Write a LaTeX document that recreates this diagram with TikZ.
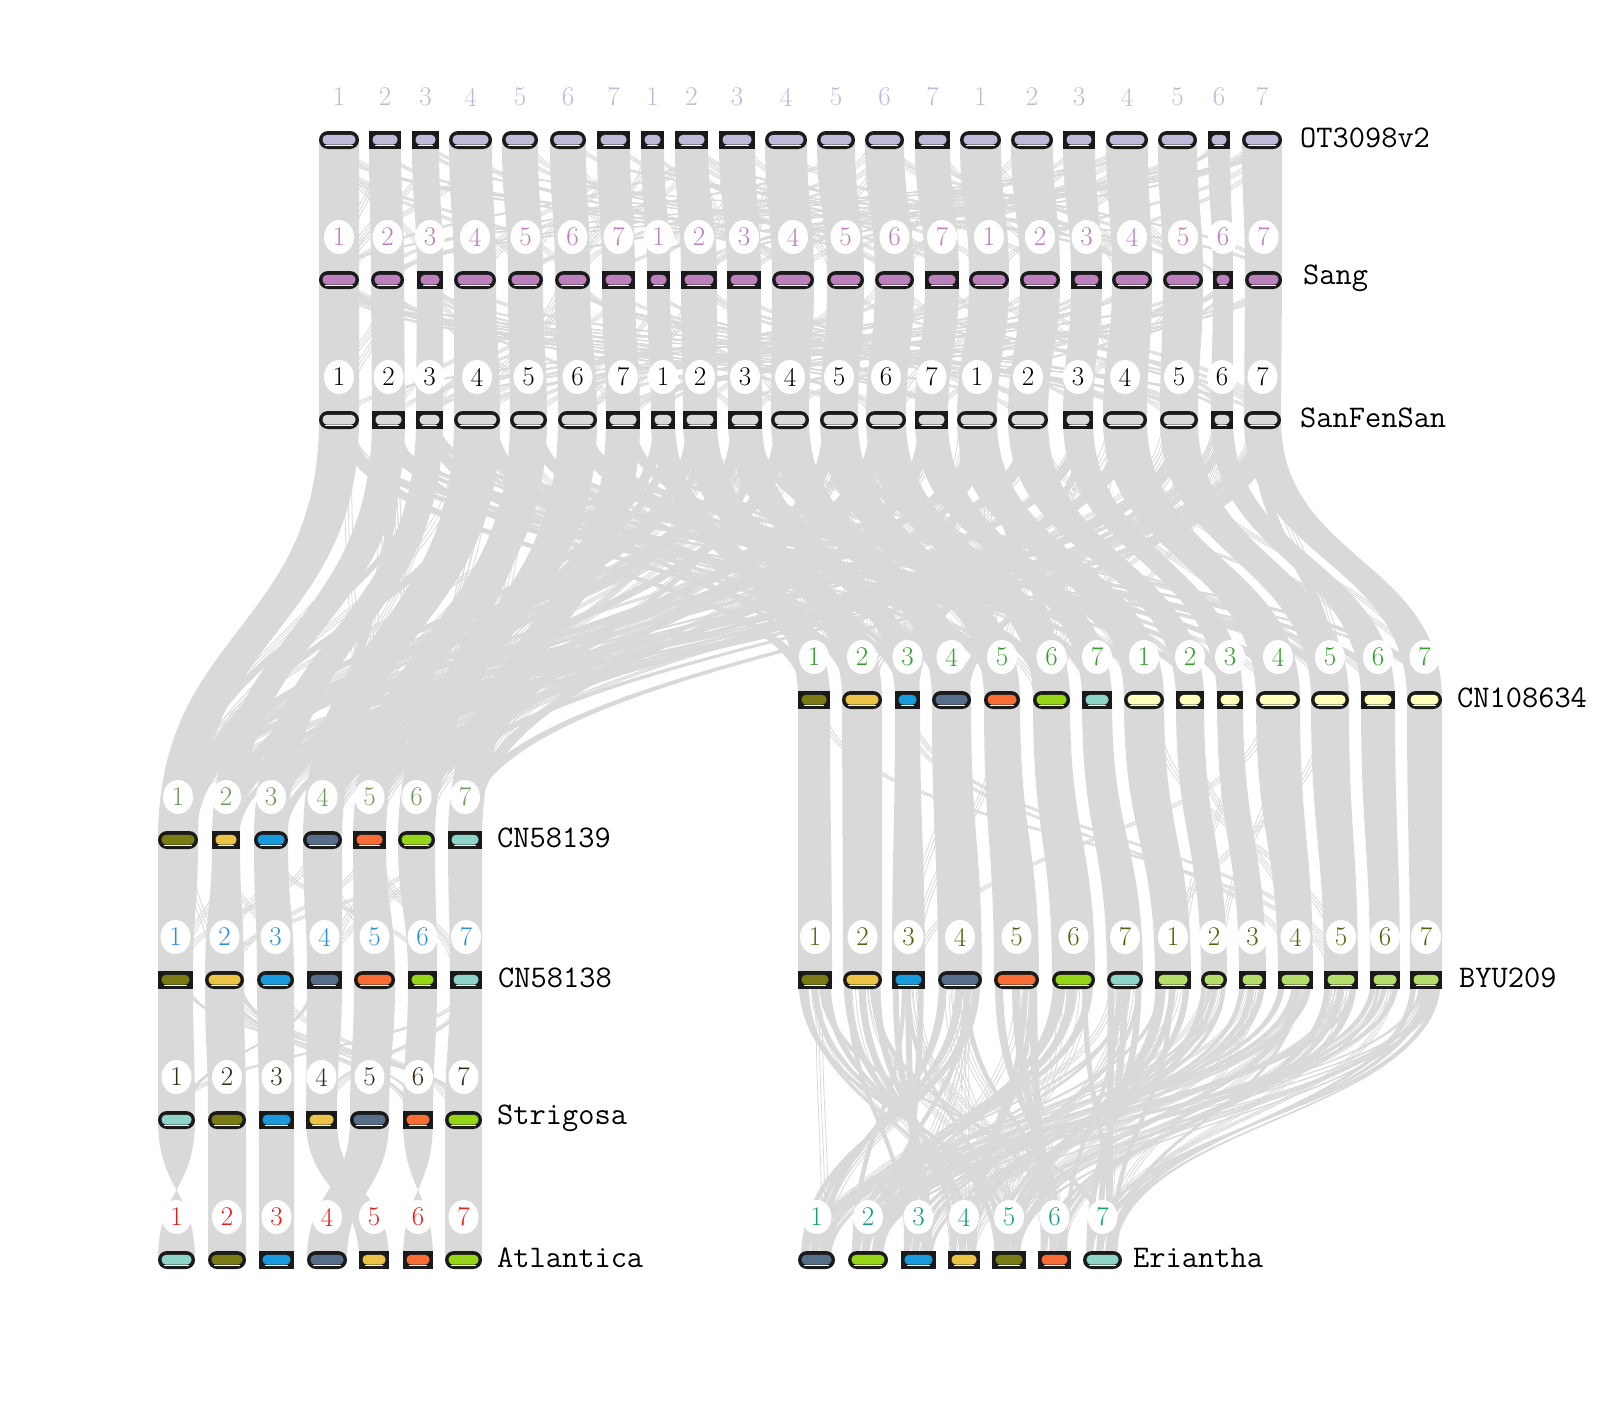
\documentclass[tikz,border=0pt]{standalone}
\usepackage{fontspec}
\usetikzlibrary{calc,shapes.geometric}
\pgfdeclarelayer{bg}
\pgfsetlayers{bg,main}
\definecolor{rib}{HTML}{D9D9D9}
\definecolor{chrblk}{HTML}{1A1A1A}
\definecolor{cot}{HTML}{BEBADA}
\definecolor{csang}{HTML}{BC80BD}
\definecolor{csfs}{HTML}{DADADA}
\definecolor{colive}{HTML}{7B7B16}
\definecolor{cyel}{HTML}{EBC447}
\definecolor{cblue}{HTML}{1A9ADE}
\definecolor{cslate}{HTML}{566E8A}
\definecolor{corange}{HTML}{F86C36}
\definecolor{clime}{HTML}{95D617}
\definecolor{cteal}{HTML}{8FD4C8}
\definecolor{cly}{HTML}{FFFFBB}
\definecolor{clg}{HTML}{B3DF6A}
\definecolor{nCB}{HTML}{33A02C}
\definecolor{nCA}{HTML}{6F9A5C}
\definecolor{nCC}{HTML}{2B8FD6}
\definecolor{nBY}{HTML}{50650F}
\definecolor{nST}{HTML}{3A2A14}
\definecolor{nAT}{HTML}{E8201A}
\definecolor{nER}{HTML}{159E82}
\tikzset{
  ribbon/.style={fill=rib, draw=none},
  thinrib/.style={draw=rib, line width=0.8pt},
  chrP/.style={fill=chrblk, rounded corners=9pt, minimum height=18pt, inner sep=0pt, outer sep=0pt},
  chrR/.style={fill=chrblk, minimum height=18pt, inner sep=0pt, outer sep=0pt},
  numlab/.style={ellipse, fill=white, minimum width=30pt, minimum height=34pt, inner sep=0pt, font=\fontsize{27}{27}\selectfont},
  glab/.style={anchor=west, inner sep=0pt, font=\ttfamily\fontsize{31.5}{32}\selectfont},
}
\newcommand\chrrow[4]{%
  \foreach \xa/\xb/\shp/\col [count=\i] in {#4} {
    \pgfmathsetmacro\cx{(\xa+\xb)/2}
    \pgfmathsetmacro\cw{\xb-\xa}
    \pgfmathtruncatemacro\num{mod(\i-1,7)+1}
    \node[numlab, text=#3] (#1n\i) at (\cx,{#2-43}) {\num};
    \node[chr\shp, minimum width=\cw pt] (#1\i) at (\cx,#2) {};
    \fill[\col, rounded corners=4.5pt] ({\xa+3.5},{#2-5.2}) rectangle ({\xb-3.5},{#2+4.6});
    \draw[white, line width=0.8pt] ({\xa+6},{#2+5.3}) -- ({\xb-6},{#2+5.3});
  }%
}
\newcommand\bandp[6]{%
  \fill[ribbon] let \p1=($(#1.west)!#2!(#1.east)$), \p2=($(#1.west)!#3!(#1.east)$),
    \p3=($(#4.west)!#5!(#4.east)$), \p4=($(#4.west)!#6!(#4.east)$),
    \n1={0.5*\y1+0.5*\y3} in
    (\p1) .. controls (\x1,\n1) and (\x3,\n1) .. (\p3) -- (\p4)
    .. controls (\x4,\n1) and (\x2,\n1) .. (\p2) -- cycle;}
\newcommand\band[2]{\bandp{#1}{0}{1}{#2}{0}{1}}
\newcommand\bandx[2]{\bandp{#1}{0}{1}{#2}{1}{0}}
\newcommand\thinln[4]{%
  \draw[thinrib] let \p1=($(#1.west)!#2!(#1.east)$), \p2=($(#3.west)!#4!(#3.east)$),
    \n1={0.5*\y1+0.5*\y2} in
    (\p1) .. controls (\x1,\n1) and (\x2,\n1) .. (\p2);}
\newcommand\thinset[6]{%
  \foreach \j in {1,...,#5}{%
    \pgfmathtruncatemacro\ra{1+mod(int(1000*abs(sin(\j*97.31+#6*11.3))),#2)}%
    \pgfmathtruncatemacro\rb{1+mod(int(1000*abs(cos(\j*53.17+#6*23.9))),#4)}%
    \pgfmathsetmacro\fa{0.05+0.6*abs(sin(\j*117.7+#6*31.1))}%
    \pgfmathsetmacro\fb{0.05+0.6*abs(cos(\j*143.3+#6*17.7))}%
    \foreach \d in {0,0.09,0.18}{%
      \pgfmathsetmacro\ga{\fa+\d}%
      \pgfmathsetmacro\gb{\fb+\d}%
      \thinln{#1\ra}{\ga}{#3\rb}{\gb}%
    }%
  }%
}
% partial ribbons between pseudo-random pairs; #7 = strand width (fraction)
\newcommand\partset[7]{%
  \foreach \j in {1,...,#5}{%
    \pgfmathtruncatemacro\ra{1+mod(int(1000*abs(sin(\j*71.9+#6*13.7))),#2)}%
    \pgfmathtruncatemacro\rb{1+mod(int(1000*abs(cos(\j*37.3+#6*29.1))),#4)}%
    \pgfmathsetmacro\fa{0.05+(0.9-#7)*abs(sin(\j*151.3+#6*7.7))}%
    \pgfmathsetmacro\fb{0.05+(0.9-#7)*abs(cos(\j*119.9+#6*5.3))}%
    \pgfmathsetmacro\ga{\fa+#7}%
    \pgfmathsetmacro\gb{\fb+#7}%
    \bandp{#1\ra}{\fa}{\ga}{#3\rb}{\fb}{\gb}%
  }%
}
\begin{document}
\begin{tikzpicture}[x=1pt,y=-1pt]
\useasboundingbox (0,0) rectangle (1600,1400);
% chromosome rows
\chrrow{OT}{140}{cot}{319/359/P/cot, 369/401/R/cot, 412/439/R/cot, 449/492/P/cot, 502/538/P/cot, 550/586/P/cot, 597/630/R/cot, 641/664/R/cot, 675/708/R/cot, 719/755/R/cot, 765/807/P/cot, 817/855/P/cot, 865/904/P/cot, 915/950/R/cot, 960/1001/P/cot, 1011/1053/P/cot, 1063/1095/R/cot, 1106/1148/P/cot, 1158/1197/P/cot, 1208/1230/R/cot, 1242/1282/P/cot}
\chrrow{SG}{280}{csang}{319/359/P/csang, 371/404/P/csang, 417/443/R/csang, 454/496/P/csang, 508/543/P/csang, 555/590/P/csang, 602/635/R/csang, 647/670/R/csang, 681/717/R/csang, 727/761/R/csang, 772/814/P/csang, 827/864/P/csang, 875/914/P/csang, 925/959/R/csang, 969/1009/P/csang, 1020/1060/P/csang, 1071/1102/R/csang, 1112/1152/P/csang, 1163/1203/P/csang, 1213/1233/R/csang, 1245/1282/P/csang}
\chrrow{SF}{420}{black}{319/359/P/csfs, 372/405/R/csfs, 416/443/R/csfs, 454/500/P/csfs, 510/547/P/csfs, 558/597/P/csfs, 606/640/R/csfs, 651/675/R/csfs, 683/717/R/csfs, 728/762/R/csfs, 771/809/P/csfs, 820/858/P/csfs, 866/906/P/csfs, 915/948/R/csfs, 957/997/P/csfs, 1008/1048/P/csfs, 1063/1093/R/csfs, 1103/1147/P/csfs, 1160/1198/P/csfs, 1211/1233/R/csfs, 1244/1281/P/csfs}
\chrrow{CB}{700}{nCB}{798/830/R/colive, 842/882/P/cyel, 895/920/R/cblue, 932/971/P/cslate, 984/1020/P/corange, 1033/1070/P/clime, 1082/1112/R/cteal, 1124/1164/P/cly, 1176/1204/R/cly, 1217/1243/R/cly, 1256/1300/P/cly, 1311/1349/P/cly, 1361/1395/R/cly, 1407/1442/P/cly}
\chrrow{CA}{840}{nCA}{158/198/P/colive, 212/240/R/cyel, 254/288/P/cblue, 303/342/P/cslate, 353/386/R/corange, 398/435/P/clime, 448/482/R/cteal}
\chrrow{BY}{980}{nBY}{798/832/R/colive, 843/882/P/cyel, 892/925/R/cblue, 938/982/P/cslate, 994/1039/P/corange, 1052/1095/P/clime, 1107/1143/P/cteal, 1155/1191/R/clg, 1201/1227/P/clg, 1239/1266/R/clg, 1278/1313/R/clg, 1324/1358/R/clg, 1370/1400/R/clg, 1410/1442/R/clg}
\chrrow{CC}{980}{nCC}{158/193/R/colive, 205/244/P/cyel, 257/294/P/cblue, 307/342/R/cslate, 354/395/P/corange, 408/437/R/clime, 450/482/R/cteal}
\chrrow{ST}{1120}{nST}{158/195/P/cteal, 208/246/P/colive, 259/294/R/cblue, 306/337/R/cyel, 350/389/P/cslate, 403/433/R/corange, 445/482/P/clime}
\chrrow{AT}{1260}{nAT}{158/195/P/cteal, 208/246/P/colive, 259/294/R/cblue, 307/347/P/cslate, 359/389/R/cyel, 403/433/R/corange, 445/482/P/clime}
\chrrow{ER}{1260}{nER}{798/835/P/cslate, 848/888/P/clime, 901/936/R/cblue, 948/980/R/cyel, 992/1026/R/colive, 1038/1071/R/corange, 1083/1122/P/cteal}
% genome labels
\node[glab] (lOT) at (1300,138) {OT3098v2};
\node[glab] (lSG) at (1303,278) {Sang};
\node[glab] (lSF) at (1300,418) {SanFenSan};
\node[glab] (lCB) at (1457,698) {CN108634};
\node[glab] (lCA) at (497,838) {CN58139};
\node[glab] (lBY) at (1459,978) {BYU209};
\node[glab] (lCC) at (498,978) {CN58138};
\node[glab] (lST) at (497,1118) {Strigosa};
\node[glab] (lAT) at (497,1258) {Atlantica};
\node[glab] (lER) at (1133,1258) {Eriantha};
% ribbons
\begin{pgfonlayer}{bg}
\fill[white] (0,0) rectangle (1600,1400);
\foreach \i in {1,...,21}{\band{OT\i}{SG\i}\band{SG\i}{SF\i}}
\foreach \i in {1,...,7}{\band{SF\i}{CA\i}\band{CA\i}{CC\i}\band{CC\i}{ST\i}}
\foreach \i in {1,...,14}{\pgfmathtruncatemacro\k{\i+7}\band{SF\k}{CB\i}\band{CB\i}{BY\i}}
% homeologous cross ribbons SanFenSan -> CN58139 / CN108634
\foreach \i in {1,...,7}{%
  \pgfmathtruncatemacro\k{\i+7}\pgfmathtruncatemacro\m{\i+14}%
  \bandp{SF\i}{0.45}{0.85}{CB\i}{0.15}{0.55}%
  \bandp{SF\i}{0.1}{0.4}{CB\k}{0.5}{0.85}%
  \bandp{SF\k}{0.1}{0.5}{CA\i}{0.4}{0.8}%
  \bandp{SF\m}{0.4}{0.8}{CA\i}{0.1}{0.45}%
}
\partset{SF}{21}{CA}{7}{18}{1}{0.25}
\partset{SF}{21}{CB}{14}{16}{2}{0.25}
\partset{CC}{7}{ST}{7}{7}{3}{0.12}
\foreach \a/\b in {2/2,3/3,4/5,5/4,7/7}{\band{ST\a}{AT\b}}
\bandx{ST1}{AT1}
\bandx{ST6}{AT6}
% BYU209 -> Eriantha strands
\foreach \a/\b in {1/5,2/4,3/3,4/1,5/6,6/2,7/7,8/5,9/4,10/3,11/1,12/6,13/2,14/7}{%
  \bandp{BY\a}{0.02}{0.2}{ER\b}{0.6}{0.75}%
  \bandp{BY\a}{0.4}{0.58}{ER\b}{0.35}{0.5}%
  \bandp{BY\a}{0.78}{0.96}{ER\b}{0.08}{0.23}%
}
\partset{BY}{14}{ER}{7}{40}{5}{0.12}
\thinset{OT}{21}{SG}{21}{70}{1}
\thinset{SG}{21}{SF}{21}{70}{2}
\thinset{SF}{21}{CA}{7}{80}{3}
\thinset{SF}{21}{CB}{14}{60}{4}
\thinset{CB}{14}{BY}{14}{12}{5}
\thinset{CA}{7}{CC}{7}{18}{6}
\thinset{BY}{14}{ER}{7}{50}{7}
\thinset{CC}{7}{ST}{7}{6}{8}
\end{pgfonlayer}
\end{tikzpicture}
\end{document}
